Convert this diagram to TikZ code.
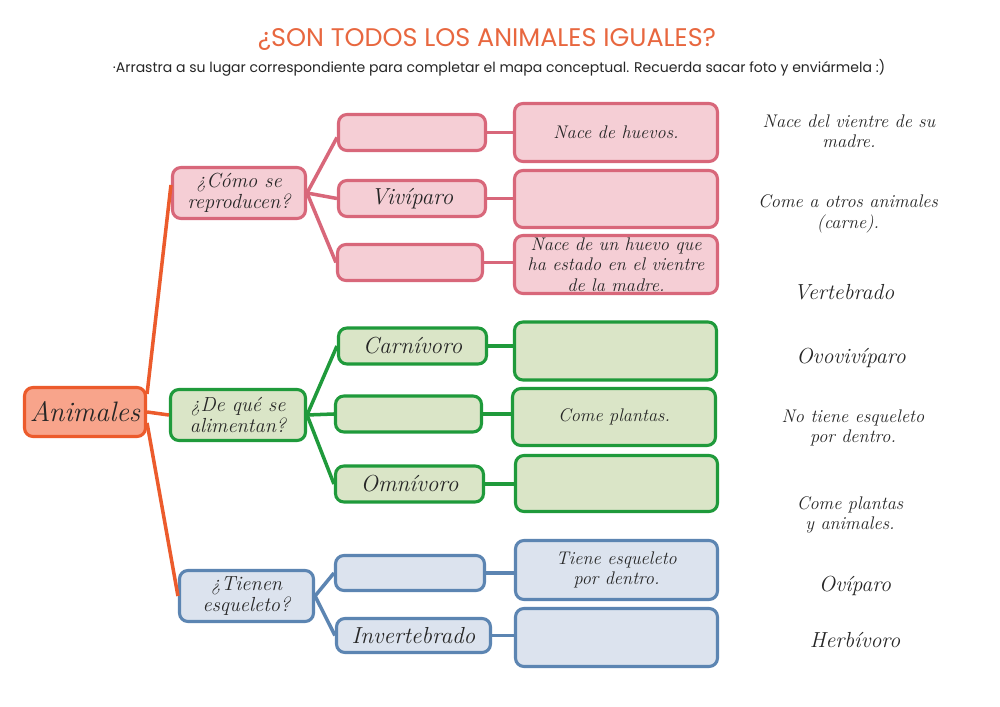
\documentclass[tikz,border=0pt]{standalone}
\usepackage{fontspec}
\newfontfamily\titlefont{Poppins}
\usetikzlibrary{calc}
\definecolor{pinkF}{HTML}{F5CED5}
\definecolor{pinkB}{HTML}{D8677A}
\definecolor{greenF}{HTML}{DAE5C7}
\definecolor{greenB}{HTML}{1F9A3B}
\definecolor{blueF}{HTML}{DCE3EE}
\definecolor{blueB}{HTML}{5C85B2}
\definecolor{orF}{HTML}{F8A48B}
\definecolor{orB}{HTML}{EC5B2C}
\definecolor{titleC}{HTML}{E8673F}
\begin{document}
\begin{tikzpicture}[x=0.025cm,y=-0.025cm,
  box/.style={rounded corners=6pt, line width=2.2pt, inner sep=0pt, align=center,
    font=\itshape\fontsize{13}{14.5}\selectfont, text=black!85},
  pinkbox/.style={box, draw=pinkB, fill=pinkF},
  greenbox/.style={box, draw=greenB, fill=greenF},
  bluebox/.style={box, draw=blueB, fill=blueF},
  rootbox/.style={box, draw=orB, fill=orF, font=\itshape\fontsize{20}{22}\selectfont},
  qfont/.style={font=\itshape\fontsize{14.5}{15}\selectfont},
  wfont/.style={font=\itshape\fontsize{16.5}{18}\selectfont},
  sz/.style 2 args={minimum width=#1*0.025cm, minimum height=#2*0.025cm},
  conn/.style={line width=2.5pt},
  item/.style={align=center, inner sep=0pt, font=\itshape\fontsize{13}{14.5}\selectfont, text=black!85},
  bigitem/.style={item, font=\itshape\fontsize{15.5}{17}\selectfont}
]
\fill[white] (0,0) rectangle (1000,707);
\useasboundingbox (0,0) rectangle (1000,707);

% title
\node[inner sep=0pt, text=titleC] (title) at (487,40)
  {\resizebox{11.45cm}{!}{\titlefont ¿SON TODOS LOS ANIMALES IGUALES?}};
\node[inner sep=0pt, text=black!85] (sub) at (499,68)
  {\resizebox{19.3cm}{!}{\titlefont ·Arrastra a su lugar correspondiente para completar el mapa conceptual. Recuerda sacar foto y enviármela :)}};

% root
\node[rootbox, sz={121}{49}] (anim) at (85,412) {Animales};

% reproduction branch
\node[pinkbox, qfont, sz={133}{51}] (rep) at (239,193) {¿Cómo se\\reproducen?};
\node[pinkbox, sz={147}{36}] (p1) at (412,132.5) {};
\node[pinkbox, wfont, sz={147}{36}] (p2) at (412,198.5) {Vivíparo};
\node[pinkbox, sz={145}{36}] (p3) at (410,262.5) {};
\node[pinkbox, sz={203}{58}] (q1) at (616,132.5) {Nace de huevos.};
\node[pinkbox, sz={203}{57}] (q2) at (616,199) {};
\node[pinkbox, sz={203}{58}] (q3) at (616,264.5) {Nace de un huevo que\\ha estado en el vientre\\de la madre.};

% feeding branch
\node[greenbox, qfont, sz={135}{51}] (ali) at (238,415) {¿De qué se\\alimentan?};
\node[greenbox, wfont, sz={148}{36}] (g1) at (412.5,346) {Carnívoro};
\node[greenbox, sz={146}{36}] (g2) at (408.5,414) {};
\node[greenbox, wfont, sz={148}{36}] (g3) at (409.5,484) {Omnívoro};
\node[greenbox, sz={202}{58}] (h1) at (615.5,351) {};
\node[greenbox, sz={203}{57}] (h2) at (614,417) {Come plantas.};
\node[greenbox, sz={202}{56}] (h3) at (616.5,483.5) {};

% skeleton branch
\node[bluebox, qfont, sz={134}{51}] (tie) at (246.5,596) {¿Tienen\\esqueleto?};
\node[bluebox, sz={149}{35}] (b1) at (410,573) {};
\node[bluebox, wfont, sz={154}{34}] (b2) at (413.5,635.5) {Invertebrado};
\node[bluebox, sz={202}{59}] (c1) at (616.5,570) {Tiene esqueleto\\por dentro.};
\node[bluebox, sz={202}{58}] (c2) at (616.5,637.5) {};

% connectors
\draw[conn, orB] ($(anim.east)+(0,-18)$) -- ($(rep.west)+(0,-8)$);
\draw[conn, orB] (anim.east) -- (ali.west);
\draw[conn, orB] ($(anim.east)+(0,11)$) -- (tie.west);

\draw[conn, pinkB] (rep.east) -- ($(p1.west)+(0,5)$);
\draw[conn, pinkB] (rep.east) -- (p2.west);
\draw[conn, pinkB] (rep.east) -- (p3.west);
\draw[conn, pinkB] (p1.east) -- (p1.east -| q1.west);
\draw[conn, pinkB] (p2.east) -- (p2.east -| q2.west);
\draw[conn, pinkB] (p3.east) -- (p3.east -| q3.west);

\draw[conn, greenB] (ali.east) -- (g1.west);
\draw[conn, greenB] (ali.east) -- (g2.west);
\draw[conn, greenB] (ali.east) -- (g3.west);
\draw[conn, greenB] (g1.east) -- (g1.east -| h1.west);
\draw[conn, greenB] (g2.east) -- (g2.east -| h2.west);
\draw[conn, greenB] (g3.east) -- (g3.east -| h3.west);

\draw[conn, blueB] (tie.east) -- (b1.west);
\draw[conn, blueB] (tie.east) -- (b2.west);
\draw[conn, blueB] (b1.east) -- (b1.east -| c1.west);
\draw[conn, blueB] (b2.east) -- (b2.east -| c2.west);

% answer items
\node[item] (r1) at (849,131) {Nace del vientre de su\\madre.};
\node[item] (r2) at (848,214) {Come a otros animales\\(carne).};
\node[bigitem] (r3) at (844,292) {Vertebrado};
\node[bigitem] (r4) at (851,358) {Ovovivíparo};
\node[item] (r5) at (853,428) {No tiene esqueleto\\por dentro.};
\node[item] (r6) at (850,515) {Come plantas\\y animales.};
\node[bigitem] (r7) at (855,586) {Ovíparo};
\node[bigitem] (r8) at (855,640) {Herbívoro};
\end{tikzpicture}
\end{document}
